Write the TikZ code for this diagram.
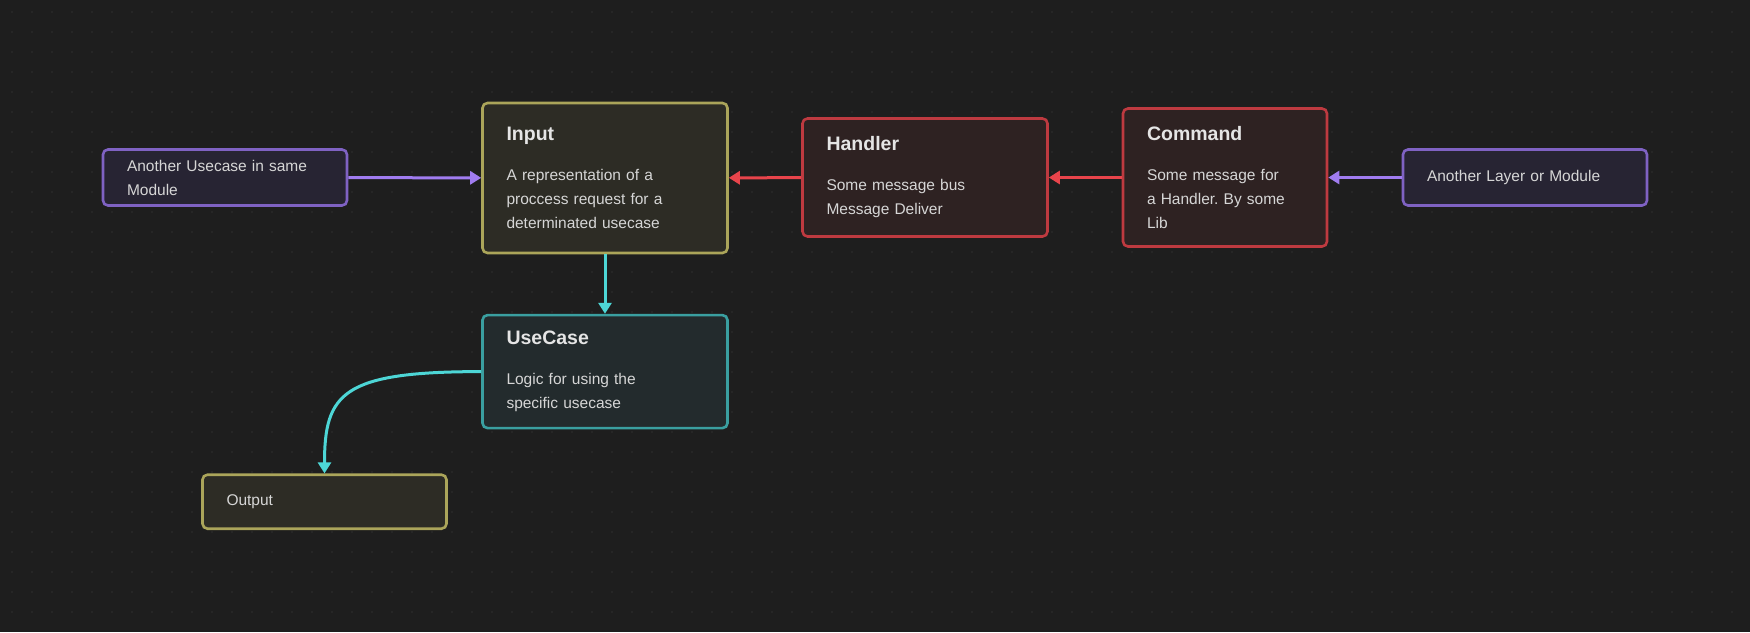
\documentclass[tikz,border=0pt]{standalone}
\usepackage{fontspec}
\setmainfont{Liberation Sans}
\usetikzlibrary{arrows.meta}

\definecolor{bg}{HTML}{1E1E1E}
\definecolor{griddot}{HTML}{2F2F2F}
\definecolor{txt}{HTML}{D6D6D6}
\definecolor{purpleline}{HTML}{7F62C3}
\definecolor{purplefill}{HTML}{272433}
\definecolor{purplearrow}{HTML}{A07CF0}
\definecolor{oliveline}{HTML}{ABA55A}
\definecolor{olivefill}{HTML}{2D2C25}
\definecolor{redline}{HTML}{BE3A40}
\definecolor{redfill}{HTML}{2E2222}
\definecolor{redarrow}{HTML}{E8444B}
\definecolor{tealline}{HTML}{3A9FA0}
\definecolor{tealfill}{HTML}{232B2D}
\definecolor{tealarrow}{HTML}{4DD6D6}

\frenchspacing
\newcommand{\cardtitle}[1]{{\fontsize{19.5}{24}\selectfont\bfseries\color{white!90!black}#1}\\[16pt]}

\begin{document}
\begin{tikzpicture}[x = 1pt, y = -1pt,
    card/.style = {draw = #1line, fill = #1fill, line width = 2.6pt, rounded corners = 5pt,
                   inner xsep = 24pt, inner ysep = 0pt, align = left, text = txt,
                   font = \fontsize{15.5}{24}\selectfont},
    flow/.style = {draw = #1arrow, line width = 3pt, -{Triangle[length = 11pt, width = 13pt]}}]
    % background with dots
    \fill [bg] (0, 0) rectangle (1750, 632);
    \useasboundingbox (0, 0) rectangle (1750, 632);
    \foreach \gx in {12, 32, ..., 1740}
      \foreach \gy in {12, 32, ..., 620}
        \fill [griddot] (\gx, \gy) circle (0.9pt);

    \node (usecaseother) at ( 225, 177.5) [card = purple, text width = 196pt, minimum height = 56pt]
      {Another Usecase in same\\Module};
    \node (input)        at ( 605, 178  ) [card = olive, text width = 197pt, minimum height = 150pt]
      {\cardtitle{Input}A representation of a\\proccess request for a\\determinated usecase};
    \node (handler)      at ( 925, 177.5) [card = red, text width = 197pt, minimum height = 118pt]
      {\cardtitle{Handler}Some message bus\\Message Deliver};
    \node (command)      at (1225, 177.5) [card = red, text width = 156pt, minimum height = 138pt]
      {\cardtitle{Command}Some message for\\a Handler. By some\\Lib};
    \node (layer)        at (1525, 177.5) [card = purple, text width = 196pt, minimum height = 56pt]
      {Another Layer or Module};
    \node (usecase)      at ( 605, 371.6) [card = teal, text width = 197pt, minimum height = 113pt]
      {\cardtitle{UseCase}Logic for using the\\specific usecase};
    \node (output)       at ( 324.5, 501.7) [card = olive, text width = 196pt, minimum height = 54pt]
      {Output};

    \draw [flow = purple] (usecaseother)--(input);
    \draw [flow = red]    (handler)--(input);
    \draw [flow = red]    (command)--(handler);
    \draw [flow = purple] (layer)--(command);
    \draw [flow = teal]   (input)--(usecase);
    \draw [flow = teal]   (usecase.west) to [out = 180, in = 90, out looseness = 1.9, in looseness = 1.1] (output.north);
  \end{tikzpicture}
\end{document}
